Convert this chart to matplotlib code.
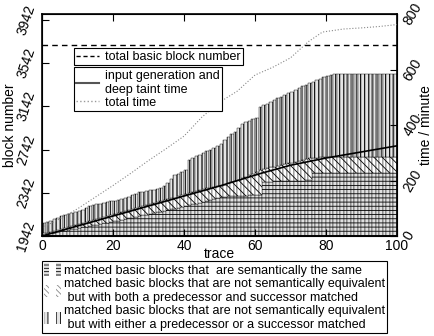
import matplotlib
matplotlib.use('Agg')
import matplotlib.pyplot as plt
from matplotlib.patches import Patch
from matplotlib.lines import Line2D
from matplotlib.legend_handler import HandlerTuple
import numpy as np

plt.rcParams['font.family'] = ['Liberation Sans', 'DejaVu Sans']
plt.rcParams['hatch.linewidth'] = 0.6

# stacked tops (block number) read per trace
same_top = [1955, 1961, 1967, 1973, 1979, 1985, 1991, 1997, 2003, 2010,
            2016, 2022, 2028, 2034, 2040, 2046, 2052, 2058, 2064, 2070,
            2077, 2084, 2090, 2097, 2104, 2111, 2118, 2125, 2132, 2139,
            2146, 2153, 2160, 2167, 2174, 2181, 2188, 2195, 2202, 2210,
            2218, 2226, 2234, 2242, 2250, 2258, 2266, 2274, 2282, 2290,
            2305, 2307, 2309, 2310, 2312, 2313, 2314, 2316, 2317, 2318,
            2320, 2321, 2444, 2445, 2446, 2447, 2448, 2449, 2450, 2451,
            2452, 2453, 2454, 2455, 2456, 2458, 2522, 2523, 2524, 2525,
            2525, 2525, 2526, 2526, 2526, 2527, 2527, 2527, 2527, 2527,
            2527, 2527, 2527, 2527, 2527, 2527, 2527, 2527, 2527, 2527]
both_top = [1966, 1974, 1983, 1992, 2001, 2010, 2019, 2028, 2037, 2046,
            2055, 2064, 2073, 2082, 2091, 2100, 2109, 2118, 2127, 2136,
            2145, 2154, 2163, 2172, 2181, 2190, 2199, 2208, 2217, 2226,
            2235, 2244, 2253, 2262, 2271, 2280, 2289, 2298, 2310, 2322,
            2334, 2344, 2352, 2360, 2368, 2376, 2384, 2390, 2395, 2400,
            2404, 2416, 2428, 2440, 2452, 2464, 2476, 2490, 2505, 2520,
            2536, 2552, 2560, 2568, 2576, 2584, 2592, 2600, 2607, 2614,
            2621, 2628, 2636, 2644, 2652, 2660, 2665, 2668, 2669, 2670,
            2670, 2670, 2670, 2670, 2670, 2670, 2670, 2670, 2670, 2670,
            2670, 2670, 2670, 2670, 2670, 2670, 2670, 2670, 2670, 2670]
either_top = [2060, 2068, 2080, 2095, 2110, 2130, 2140, 2150, 2158, 2165,
              2175, 2185, 2200, 2215, 2228, 2235, 2242, 2250, 2258, 2262,
              2270, 2278, 2285, 2290, 2300, 2318, 2330, 2345, 2352, 2358,
              2365, 2372, 2378, 2385, 2400, 2430, 2470, 2505, 2520, 2535,
              2552, 2645, 2660, 2680, 2695, 2710, 2725, 2737, 2755, 2775,
              2795, 2830, 2860, 2885, 2905, 2940, 2975, 3000, 3010, 3020,
              3030, 3138, 3150, 3165, 3184, 3200, 3215, 3230, 3248, 3262,
              3278, 3295, 3310, 3325, 3339, 3355, 3370, 3385, 3398, 3410,
              3420, 3430, 3438, 3440, 3440, 3440, 3440, 3440, 3440, 3440,
              3440, 3440, 3440, 3440, 3440, 3440, 3440, 3440, 3440, 3440]
total_blocks = 3709

# time curves (minutes)
gen_trace = [0, 10, 20, 30, 40, 50, 62, 70, 80, 90, 100]
gen_time = [0, 36, 72, 108, 144, 180, 227, 255, 281, 303, 325]
tot_trace = [0, 5, 10, 15, 20, 25, 30, 35, 40, 45, 50, 55, 60, 65, 70, 75, 79, 85, 90, 95, 100]
tot_time = [30, 62, 98, 140, 182, 226, 272, 315, 360, 428, 482, 522, 580, 608, 642, 700, 735, 746, 750, 755, 762]

x = np.arange(len(same_top))
same = np.array(same_top)
both = np.array(both_top) - same
either = np.array(either_top) - np.array(both_top)

fig = plt.figure(figsize=(4.35, 3.36), dpi=100)
ax = fig.add_axes([0.0966, 0.2976, 0.816, 0.6607])

bar_kw = dict(width=1.0, align='edge', edgecolor='black', linewidth=0.3)
ax.bar(x, same, color='#e0e0e0', hatch='----', **bar_kw)
ax.bar(x, both, bottom=same, color='white', hatch='\\\\\\\\', **bar_kw)
ax.bar(x, either, bottom=same + both, color='#e4e4e4', hatch='||||', **bar_kw)

ax.axhline(total_blocks, color='black', linestyle=(0, (4, 3)), linewidth=1.0)

ax.set_xlim(0, 100)
ax.set_ylim(1942, 3995)
ax.set_yticks([1942, 2342, 2742, 3142, 3542, 3942])
ax.set_xticks([0, 20, 40, 60, 80, 100])
ax.tick_params(axis='both', direction='in', labelsize=10, top=True, length=5)
ax.tick_params(axis='x', pad=2)
ax.tick_params(axis='y', pad=3)
for lab in ax.get_yticklabels():
    lab.set_rotation(72)
    lab.set_va('center')
ax.set_ylabel('block number', fontsize=10)
ax.yaxis.set_label_coords(-0.07, 0.5)
ax.set_xlabel('trace', fontsize=10, labelpad=-4)
for s in ax.spines.values():
    s.set_linewidth(1.2)

ax2 = ax.twinx()
ax2.set_ylim(0, 800)
ax2.set_yticks([0, 200, 400, 600, 800])
ax2.tick_params(axis='y', direction='in', labelsize=10, length=5, pad=3)
for lab in ax2.get_yticklabels():
    lab.set_rotation(60)
    lab.set_va('center')
ax2.set_ylabel('time / minute', fontsize=10)
ax2.yaxis.set_label_coords(1.062, 0.5)
ax2.plot(gen_trace, gen_time, color='black', linewidth=1.2)
ax2.plot(tot_trace, tot_time, color='#888888', linestyle=':', linewidth=0.8)

leg1 = ax2.legend([Line2D([], [], color='black', linestyle=(0, (3, 2)), linewidth=1.0)],
                  ['total basic block number'], loc='upper left',
                  bbox_to_anchor=(0.09, 0.845), fontsize=9, frameon=True,
                  fancybox=False, edgecolor='black', framealpha=1,
                  handlelength=1.8, handletextpad=0.5, borderpad=0.2,
                  borderaxespad=0)
leg1.get_frame().set_linewidth(0.8)
ax2.add_artist(leg1)
leg2 = ax2.legend([Line2D([], [], color='#555555', linewidth=1.5),
                   Line2D([], [], color='#999999', linestyle=':', linewidth=1.0)],
                  ['input generation and\ndeep taint time', 'total time'],
                  loc='upper left', bbox_to_anchor=(0.09, 0.76), fontsize=9,
                  frameon=True, fancybox=False, edgecolor='black', framealpha=1,
                  handlelength=1.8, handletextpad=0.5, borderpad=0.2,
                  labelspacing=0.1, borderaxespad=0)
leg2.get_frame().set_linewidth(0.8)

h_same = (Patch(facecolor='#e0e0e0', hatch='-----', edgecolor='black', linewidth=0),
          Patch(facecolor='#e0e0e0', hatch='-----', edgecolor='black', linewidth=0))
h_both = (Patch(facecolor='white', hatch='\\\\\\\\\\\\', edgecolor='#888888', linewidth=0),
          Patch(facecolor='white', hatch='\\\\\\\\\\\\', edgecolor='#888888', linewidth=0))
h_either = (Patch(facecolor='#e4e4e4', hatch='||||', edgecolor='black', linewidth=0),
            Patch(facecolor='#e4e4e4', hatch='||||', edgecolor='black', linewidth=0))
leg3 = fig.legend([h_same, h_both, h_either],
                  ['matched basic blocks that  are semantically the same',
                   'matched basic blocks that are not semantically equivalent\n but with both a predecessor and successor matched',
                   'matched basic blocks that are not semantically equivalent\n but with either a predecessor or a successor matched'],
                  handler_map={tuple: HandlerTuple(ndivide=None, pad=0.6)},
                  loc='upper left', bbox_to_anchor=(0.0966, 0.223), fontsize=9,
                  frameon=True, fancybox=False, edgecolor='black', framealpha=1,
                  handlelength=1.4, handleheight=1.2, handletextpad=0.2,
                  borderpad=0.15, labelspacing=0.1, borderaxespad=0)
leg3.get_frame().set_linewidth(0.8)

fig.savefig('out.png', dpi=100)
